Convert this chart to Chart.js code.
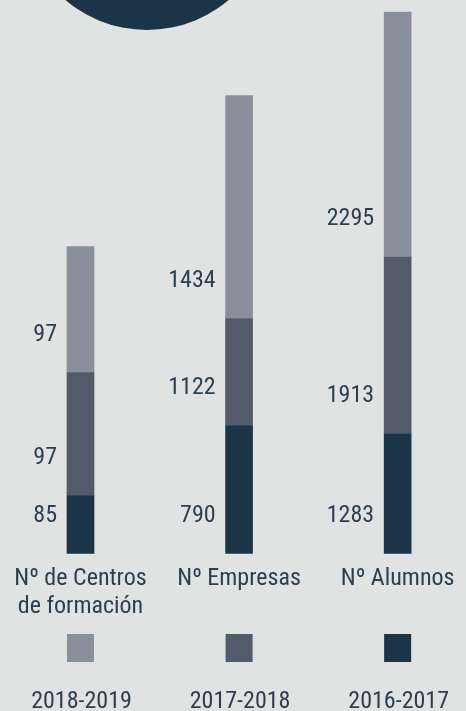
<!DOCTYPE html>
<html>
<head>
<meta charset="utf-8">
<script src="https://cdn.jsdelivr.net/npm/chart.js@4"></script>
<style>
  html, body { margin: 0; padding: 0; background: #e1e3e2; overflow: hidden; }
  #wrap { position: relative; width: 466px; height: 711px; }
  #circulo { position: absolute; left: 21px; top: -222px; width: 252px; height: 252px; border-radius: 50%; background: #1b3447; }
  canvas { position: absolute; left: 0; top: 0; }
</style>
</head>
<body>
<div id="wrap">
  <div id="circulo"></div>
  <canvas id="grafica"></canvas>
</div>
<script>
// categorias (eje x)
var categorias = [['Nº de Centros', 'de formación'], 'Nº Empresas', 'Nº Alumnos']

// cursos (leyenda)
var cursos = ['2016-2017', '2017-2018', '2018-2019']

// longitud visual de cada tramo (unidades del dibujo, no proporcionales a las cifras)
var largo2016 = [58, 128, 119.5]
var largo2017 = [123, 107, 177]
var largo2018 = [126, 223, 245]

// cifras que se muestran junto a cada tramo
var cifras2016 = [85, 790, 1283]
var cifras2017 = [97, 1122, 1913]
var cifras2018 = [97, 1434, 2295]

var colores = ['#1b3447', '#525b69', '#8a909b']
var colorTexto = '#2d3e4f'
var fuente = "'Liberation Sans Narrow', 'Roboto Condensed', 'Liberation Sans', sans-serif"

var etiquetasPlugin = {
    id: 'etiquetas',
    afterDatasetsDraw: function(chart) {
        var ctx = chart.ctx
        ctx.save()
        ctx.fillStyle = colorTexto
        ctx.font = '24px ' + fuente
        ctx.textAlign = 'right'
        ctx.textBaseline = 'middle'
        chart.data.datasets.forEach(function(ds, i) {
            var meta = chart.getDatasetMeta(i)
            meta.data.forEach(function(bar, j) {
                ctx.fillText(ds.cifras[j], bar.x - bar.width / 2 - 10, bar.base - 38)
            })
        })
        ctx.restore()
    }
}

var leyendaPlugin = {
    id: 'leyenda',
    afterDraw: function(chart) {
        var ctx = chart.ctx
        var xScale = chart.scales.x
        var n = chart.data.datasets.length
        ctx.save()
        ctx.font = '24px ' + fuente
        ctx.textAlign = 'center'
        ctx.textBaseline = 'middle'
        for (var k = 0; k < n; k++) {
            var ds = chart.data.datasets[n - 1 - k]
            var x = xScale.getPixelForValue(k)
            ctx.fillStyle = ds.backgroundColor
            ctx.fillRect(x - 13.5, 634, 27, 28)
            ctx.fillStyle = colorTexto
            ctx.fillText(ds.label, x + 1, 702)
        }
        ctx.restore()
    }
}

var ctx = document.getElementById('grafica').getContext('2d')
var canvas = document.getElementById('grafica')
canvas.width = 466
canvas.height = 711
canvas.style.width = '466px'
canvas.style.height = '711px'

window.grafica = new Chart(ctx, {
    type: 'bar',
    data: {
        labels: categorias,
        datasets: [
            { label: cursos[0], data: largo2016, cifras: cifras2016, backgroundColor: colores[0] },
            { label: cursos[1], data: largo2017, cifras: cifras2017, backgroundColor: colores[1] },
            { label: cursos[2], data: largo2018, cifras: cifras2018, backgroundColor: colores[2] }
        ]
    },
    options: {
        responsive: false,
        animation: false,
        devicePixelRatio: 1,
        barThickness: 27,
        clip: false,
        layout: { padding: { left: 80.5, right: 58.5, top: 0, bottom: 0 } },
        datasets: { bar: { barThickness: 27, clip: false, borderWidth: 0 } },
        plugins: {
            legend: { display: false },
            tooltip: { enabled: false }
        },
        scales: {
            x: {
                stacked: true,
                offset: false,
                border: { display: false },
                grid: { display: false, drawTicks: false },
                ticks: {
                    color: colorTexto,
                    padding: 11.5,
                    maxRotation: 0,
                    autoSkip: false,
                    font: { family: fuente, size: 24, lineHeight: 1.1667 }
                },
                afterFit: function(scale) { scale.height = 157.5 }
            },
            y: {
                stacked: true,
                display: false,
                min: 0,
                max: 553.5
            }
        }
    },
    plugins: [etiquetasPlugin, leyendaPlugin]
})
</script>
</body>
</html>
